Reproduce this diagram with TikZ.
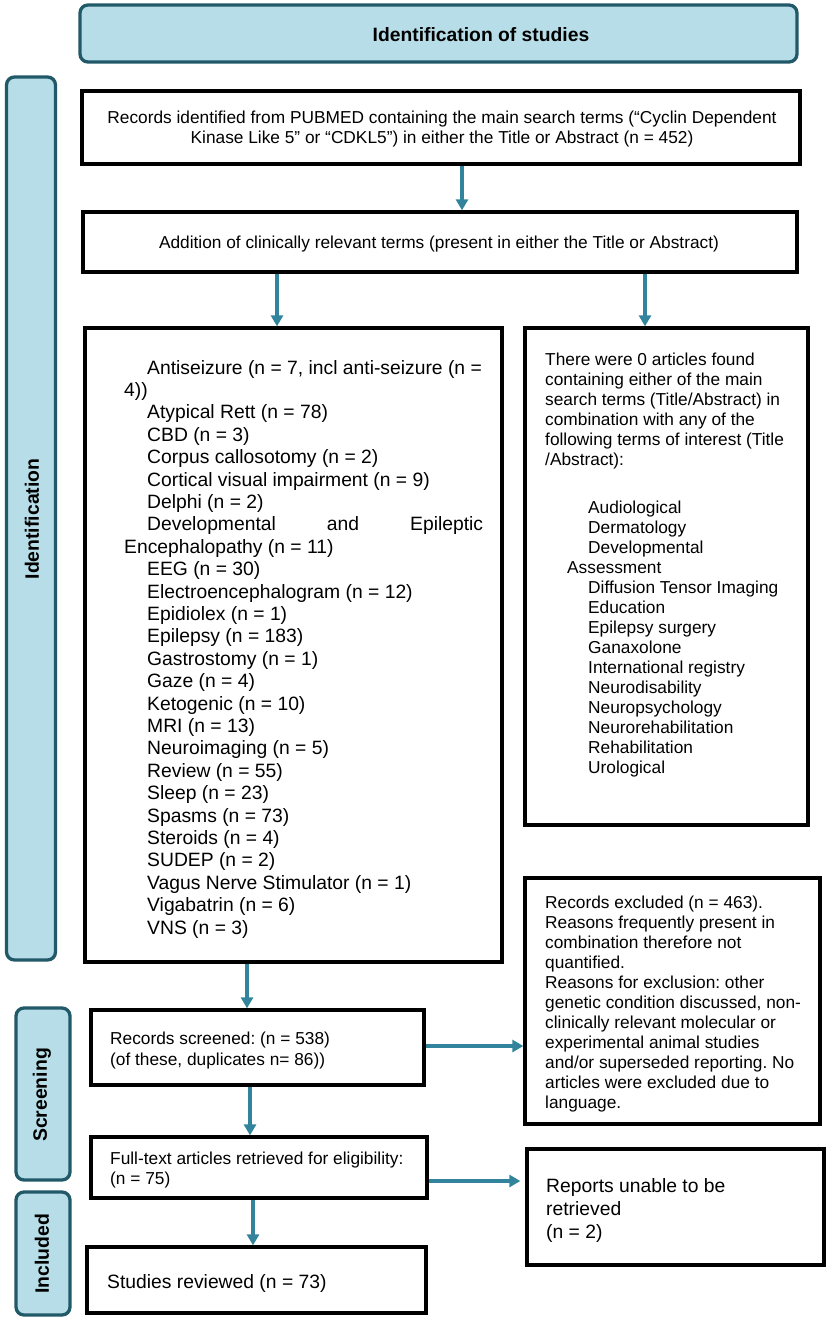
\documentclass[tikz,border=0pt]{standalone}
\usepackage{fontspec}
\setmainfont{Liberation Sans}
\usetikzlibrary{arrows.meta}
\frenchspacing
\definecolor{sidefill}{HTML}{B7DEE8}
\definecolor{sidedraw}{HTML}{215968}
\definecolor{arrowc}{HTML}{31849B}
\newcommand\fsS{\fontsize{17.3}{20}\selectfont}
\newcommand\fsL{\fontsize{19.3}{22.4}\selectfont}
\begin{document}
\begin{tikzpicture}[x=1pt,y=-1pt,
 sidebox/.style={draw=sidedraw, fill=sidefill, line width=3.3pt, rounded corners=8pt, inner sep=0pt},
 sidelabel/.style={font=\fontsize{19.4}{22}\selectfont\bfseries, rotate=90, inner sep=0pt},
 flowbox/.style={draw=black, line width=3.3pt, inner sep=0pt},
 txt/.style={inner sep=0pt, align=left, anchor=base west},
 arr/.style={draw=arrowc, line width=3.3pt, -{Triangle[length=11pt,width=12pt]}},
]
\useasboundingbox (0,0) rectangle (829,1321);

% header and side panels
\node[sidebox, minimum width=717pt, minimum height=57pt] (header) at (438.5,33.5) {};
\node[font=\fontsize{19.3}{22}\selectfont\bfseries, inner sep=0pt] (htext) at (481,35) {Identification of studies};
\node[sidebox, minimum width=49pt, minimum height=883pt] (idside) at (31,518.5) {};
\node[sidelabel] (idlab) at (32,519) {Identification};
\node[sidebox, minimum width=54pt, minimum height=172pt] (scside) at (43,1094) {};
\node[sidelabel] (sclab) at (42,1095) {Screening};
\node[sidebox, minimum width=54pt, minimum height=123pt] (inside) at (43,1253.5) {};
\node[sidelabel] (inlab) at (42,1254) {Included};

% flow boxes
\node[flowbox, minimum width=718pt, minimum height=73pt] (box1) at (441,127.5) {};
\node[flowbox, minimum width=714pt, minimum height=60pt] (box2) at (440,242) {};
\node[flowbox, minimum width=417pt, minimum height=634pt] (list) at (293.5,645) {};
\node[flowbox, minimum width=283pt, minimum height=497pt] (rbox) at (666.5,576.5) {};
\node[flowbox, minimum width=295pt, minimum height=246pt] (excl) at (672.5,1001) {};
\node[flowbox, minimum width=333pt, minimum height=75pt] (screened) at (257.5,1047.5) {};
\node[flowbox, minimum width=336pt, minimum height=61pt] (fulltext) at (259,1167.5) {};
\node[flowbox, minimum width=339pt, minimum height=66pt] (studies) at (256.5,1280) {};
\node[flowbox, minimum width=297pt, minimum height=116pt] (reports) at (675.5,1207) {};

% texts (anchor = baseline of the last line)
\node[inner sep=0pt, align=center, font=\fsS, anchor=base] (b1txt) at (442,144)
 {Records identified from PUBMED containing the main search terms (“Cyclin Dependent\\Kinase Like 5” or “CDKL5”) in either the Title or Abstract (n = 452)};
\node[inner sep=0pt, font=\fsS, anchor=base] (b2txt) at (439,249)
 {Addition of clinically relevant terms (present in either the Title or Abstract)};

\node[txt, font=\fsL] (listtxt) at (124,934) {%
\hspace*{23pt}Antiseizure (n = 7, incl anti-seizure (n =\\
4))\\
\hspace*{23pt}Atypical Rett (n = 78)\\
\hspace*{23pt}CBD (n = 3)\\
\hspace*{23pt}Corpus callosotomy (n = 2)\\
\hspace*{23pt}Cortical visual impairment (n = 9)\\
\hspace*{23pt}Delphi (n = 2)\\
\hspace*{23pt}\hbox to 336pt{Developmental\hfill and\hfill Epileptic}\\
Encephalopathy (n = 11)\\
\hspace*{23pt}EEG (n = 30)\\
\hspace*{23pt}Electroencephalogram (n = 12)\\
\hspace*{23pt}Epidiolex (n = 1)\\
\hspace*{23pt}Epilepsy (n = 183)\\
\hspace*{23pt}Gastrostomy (n = 1)\\
\hspace*{23pt}Gaze (n = 4)\\
\hspace*{23pt}Ketogenic (n = 10)\\
\hspace*{23pt}MRI (n = 13)\\
\hspace*{23pt}Neuroimaging (n = 5)\\
\hspace*{23pt}Review (n = 55)\\
\hspace*{23pt}Sleep (n = 23)\\
\hspace*{23pt}Spasms (n = 73)\\
\hspace*{23pt}Steroids (n = 4)\\
\hspace*{23pt}SUDEP (n = 2)\\
\hspace*{23pt}Vagus Nerve Stimulator (n = 1)\\
\hspace*{23pt}Vigabatrin (n = 6)\\
\hspace*{23pt}VNS (n = 3)};

\node[txt, font=\fsS] (rtxt) at (545,773) {%
There were 0 articles found\\
containing either of the main\\
search terms (Title/Abstract) in\\
combination with any of the\\
following terms of interest (Title\\
/Abstract):\\[28pt]
\hspace*{43pt}Audiological\\
\hspace*{43pt}Dermatology\\
\hspace*{43pt}Developmental\\
\hspace*{22pt}Assessment\\
\hspace*{43pt}Diffusion Tensor Imaging\\
\hspace*{43pt}Education\\
\hspace*{43pt}Epilepsy surgery\\
\hspace*{43pt}Ganaxolone\\
\hspace*{43pt}International registry\\
\hspace*{43pt}Neurodisability\\
\hspace*{43pt}Neuropsychology\\
\hspace*{43pt}Neurorehabilitation\\
\hspace*{43pt}Rehabilitation\\
\hspace*{43pt}Urological};

\node[txt, font=\fsS] (excltxt) at (545,1108) {%
Records excluded (n = 463).\\
Reasons frequently present in\\
combination therefore not\\
quantified.\\
Reasons for exclusion: other\\
genetic condition discussed, non-\\
clinically relevant molecular or\\
experimental animal studies\\
and/or superseded reporting. No\\
articles were excluded due to\\
language.};

\node[txt, font=\fontsize{17.3}{21}\selectfont] (scrtxt) at (110,1065) {%
Records screened: (n = 538)\\
(of these, duplicates n= 86))};
\node[txt, font=\fsS] (fttxt) at (110,1184) {%
Full-text articles retrieved for eligibility:\\
(n = 75)};
\node[txt, font=\fsL] (sttxt) at (107,1288) {Studies reviewed (n = 73)};
\node[txt, font=\fontsize{19.3}{23}\selectfont] (reptxt) at (546,1238) {%
Reports unable to be\\
retrieved\\
(n = 2)};

% arrow positions
\coordinate (a1) at (462,0);
\coordinate (a2) at (277,0);
\coordinate (a3) at (645,0);
\coordinate (a4) at (247,0);
\coordinate (a5) at (250,0);
\coordinate (a6) at (253,0);
\coordinate (h1) at (0,1046);
\coordinate (h2) at (0,1181);

\draw[arr] (box1.south -| a1) -- (box2.north -| a1);
\draw[arr] (box2.south -| a2) -- (list.north -| a2);
\draw[arr] (box2.south -| a3) -- (rbox.north -| a3);
\draw[arr] (list.south -| a4) -- (screened.north -| a4);
\draw[arr] (screened.south -| a5) -- (fulltext.north -| a5);
\draw[arr] (fulltext.south -| a6) -- (studies.north -| a6);
\draw[arr] (screened.east |- h1) -- (excl.west |- h1);
\draw[arr, shorten >=5pt] (fulltext.east |- h2) -- (reports.west |- h2);
\end{tikzpicture}
\end{document}
